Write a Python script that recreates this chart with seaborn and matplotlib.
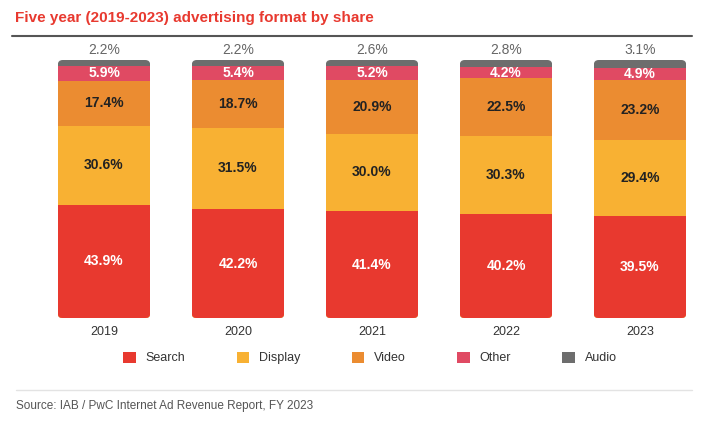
import pandas as pd
import matplotlib.pyplot as plt
import seaborn as sns
from matplotlib.patches import FancyBboxPatch, Patch
from matplotlib.lines import Line2D

# Data (share %, bottom to top)
years = ['2019', '2020', '2021', '2022', '2023']
search = [43.9, 42.2, 41.4, 40.2, 39.5]
display = [30.6, 31.5, 30.0, 30.3, 29.4]
video = [17.4, 18.7, 20.9, 22.5, 23.2]
other = [5.9, 5.4, 5.2, 4.2, 4.9]
audio = [2.2, 2.2, 2.6, 2.8, 3.1]

formats = ['Search', 'Display', 'Video', 'Other', 'Audio']
colors = ['#e8392f', '#f8b133', '#eb8c31', '#e04a63', '#6d6d6d']
label_colors = ['white', '#222222', '#222222', 'white', '#666666']

sns.set_theme(style='white')
plt.rcParams['font.family'] = ['Liberation Sans', 'DejaVu Sans']

df = pd.DataFrame({'year': years, 'Search': search, 'Display': display,
                   'Video': video, 'Other': other, 'Audio': audio})
cum = df[formats].cumsum(axis=1)
cum['year'] = years

fig = plt.figure(figsize=(7.04, 4.30), dpi=100)
ax = fig.add_axes([12 / 704, 1 - 318 / 430, 680 / 704, 258 / 430])

# stacked bars: draw tallest cumulative layer first
for name, col in zip(reversed(formats), reversed(colors)):
    sns.barplot(data=cum, x='year', y=name, color=col, width=0.69,
                saturation=1, linewidth=0, edgecolor='none', ax=ax)

ax.set_xlim((12 - 104) / 134, (692 - 104) / 134)
ax.set_ylim(0, 100)
ax.set_xlabel('')
ax.set_ylabel('')
ax.set_yticks([])
ax.tick_params(axis='x', length=0, labelsize=9, colors='#333333', pad=6)
sns.despine(ax=ax, left=True, bottom=True)

# rounded corners: clip each column to a rounded rectangle
bars = list(ax.patches)
px_x = 134
px_y = 258 / 100
r = 5 / px_x
for i in range(len(years)):
    clip = FancyBboxPatch((i - 0.345, 0), 0.69, 100,
                          boxstyle=f'round,pad=0,rounding_size={r}',
                          mutation_aspect=(5 / px_y) / r,
                          transform=ax.transData, facecolor='none', edgecolor='none')
    ax.add_patch(clip)
    for p in bars:
        if abs(p.get_x() + p.get_width() / 2 - i) < 0.1:
            p.set_clip_path(clip)

# value labels
for i in range(len(years)):
    for j, name in enumerate(formats):
        val = df[name][i]
        top = cum[name][i]
        if name == 'Audio':
            ax.text(i, 100 + 1.0, f'{val:.1f}%', ha='center', va='bottom',
                    fontsize=10, color=label_colors[j], clip_on=False)
        else:
            ax.text(i, top - val / 2, f'{val:.1f}%', ha='center', va='center',
                    fontsize=10, fontweight='bold', color=label_colors[j])

# title and rules
fig.text(15 / 704, 1 - 18 / 430, 'Five year (2019-2023) advertising format by share',
         fontsize=11, fontweight='bold', color='#e8392f', va='center')
fig.add_artist(Line2D([12 / 704, 692 / 704], [1 - 36 / 430] * 2, color='#555555', lw=1.5))
fig.add_artist(Line2D([16 / 704, 692 / 704], [1 - 390 / 430] * 2, color='#e3e3e3', lw=1))

handles = [Patch(facecolor=c, edgecolor='none') for c in colors]
fig.legend(handles, formats, loc='center', bbox_to_anchor=(370 / 704, 1 - 358 / 430),
           ncol=5, frameon=False, fontsize=9, handlelength=1.0, handleheight=1.0,
           handletextpad=0.8, columnspacing=4.1, labelcolor='#333333')

fig.text(16 / 704, 1 - 406 / 430, 'Source: IAB / PwC Internet Ad Revenue Report, FY 2023',
         fontsize=8.5, color='#555555', va='center')

fig.savefig('out.png', dpi=100)
